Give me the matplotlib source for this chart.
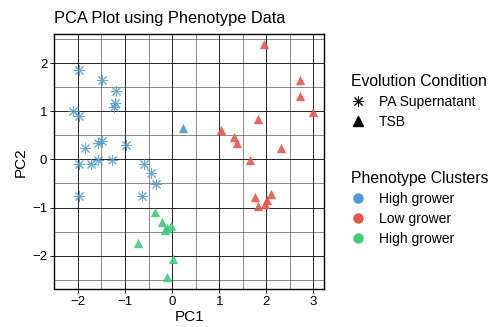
import numpy as np
import matplotlib.pyplot as plt
from matplotlib.lines import Line2D

plt.rcParams['font.family'] = ['Liberation Sans', 'DejaVu Sans']

# PA Supernatant samples (all in cluster 1, high grower)
pa_pc1 = [-1.98, -1.49, -1.19, -1.22, -1.24, -2.10, -1.98, -1.84, -1.58, -1.48,
          -0.97, -1.97, -1.73, -1.58, -1.27, -0.59, -0.44, -0.34, -0.64, -1.98]
pa_pc2 = [1.86, 1.65, 1.41, 1.17, 1.08, 1.01, 0.90, 0.24, 0.34, 0.38,
          0.30, -0.10, -0.10, -0.02, -0.01, -0.10, -0.28, -0.52, -0.75, -0.77]

# TSB samples, split by cluster
tsb1_pc1 = [0.23]
tsb1_pc2 = [0.65]
tsb2_pc1 = [1.95, 2.72, 2.72, 2.99, 1.83, 1.03, 1.32, 1.37, 2.32, 1.66,
            1.75, 1.82, 2.01, 2.09, 1.97]
tsb2_pc2 = [2.40, 1.64, 1.32, 0.99, 0.83, 0.62, 0.46, 0.35, 0.23, -0.01,
            -0.78, -0.97, -0.85, -0.71, -0.93]
tsb3_pc1 = [-0.37, -0.22, -0.15, -0.03, -0.10, -0.73, 0.01, -0.11]
tsb3_pc2 = [-1.09, -1.30, -1.47, -1.39, -1.42, -1.73, -2.06, -2.44]

cluster_labels = ['High grower', 'Low grower', 'High grower']
cluster_colors = ['#4a9bd0', '#e8564b', '#3dcc78']
condition_labels = ['PA Supernatant', 'TSB']

fig = plt.figure(figsize=(4.91, 3.27), dpi=100)
ax = fig.add_axes([0.1106, 0.1147, 0.5499, 0.781])

ax.scatter(pa_pc1, pa_pc2, marker=(8, 2, 0), s=55, color=cluster_colors[0],
           linewidths=0.7, alpha=0.85, zorder=3)
ax.scatter(tsb1_pc1, tsb1_pc2, marker='^', s=45, color=cluster_colors[0],
           linewidths=0, alpha=0.9, zorder=3)
ax.scatter(tsb2_pc1, tsb2_pc2, marker='^', s=45, color=cluster_colors[1],
           linewidths=0, alpha=0.9, zorder=3)
ax.scatter(tsb3_pc1, tsb3_pc2, marker='^', s=45, color=cluster_colors[2],
           linewidths=0, alpha=0.9, zorder=3)

ax.set_xlim(-2.37, 3.23)
ax.set_ylim(-2.7, 2.6)
ax.set_xticks([-2, -1, 0, 1, 2, 3])
ax.set_yticks([-2, -1, 0, 1, 2])
ax.set_xticks(np.arange(-2.5, 3.5, 0.5), minor=True)
ax.set_yticks(np.arange(-2.5, 3.0, 0.5), minor=True)
ax.grid(which='major', color='black', linewidth=0.6)
ax.grid(which='minor', color='#333333', linewidth=0.4)
ax.set_axisbelow(True)
ax.tick_params(which='minor', length=0)
ax.tick_params(which='major', length=3, width=0.6, labelsize=9.5, pad=2)
for s in ax.spines.values():
    s.set_linewidth(1.0)

ax.set_title('PCA Plot using Phenotype Data', fontsize=11.8, loc='left', pad=8)
ax.set_xlabel('PC1', fontsize=11, labelpad=1)
ax.set_ylabel('PC2', fontsize=11, labelpad=3)

cond_handles = [
    Line2D([], [], marker=(8, 2, 0), color='black', linestyle='', markersize=8, markeredgewidth=0.7),
    Line2D([], [], marker='^', color='black', linestyle='', markersize=7),
]
leg1 = fig.legend(cond_handles, condition_labels, title='Evolution Condition',
                  loc='upper left', bbox_to_anchor=(0.69, 0.812), frameon=False,
                  fontsize=10, title_fontsize=11.3, alignment='left',
                  handlelength=1.0, handletextpad=1.0, labelspacing=0.42)

clus_handles = [Line2D([], [], marker='o', color=c, linestyle='', markersize=6.5)
                for c in cluster_colors]
leg2 = fig.legend(clus_handles, cluster_labels, title='Phenotype Clusters',
                  loc='upper left', bbox_to_anchor=(0.69, 0.515), frameon=False,
                  fontsize=10, title_fontsize=11.3, alignment='left',
                  handlelength=1.0, handletextpad=1.0, labelspacing=0.42)

fig.savefig('out.png', dpi=100)
